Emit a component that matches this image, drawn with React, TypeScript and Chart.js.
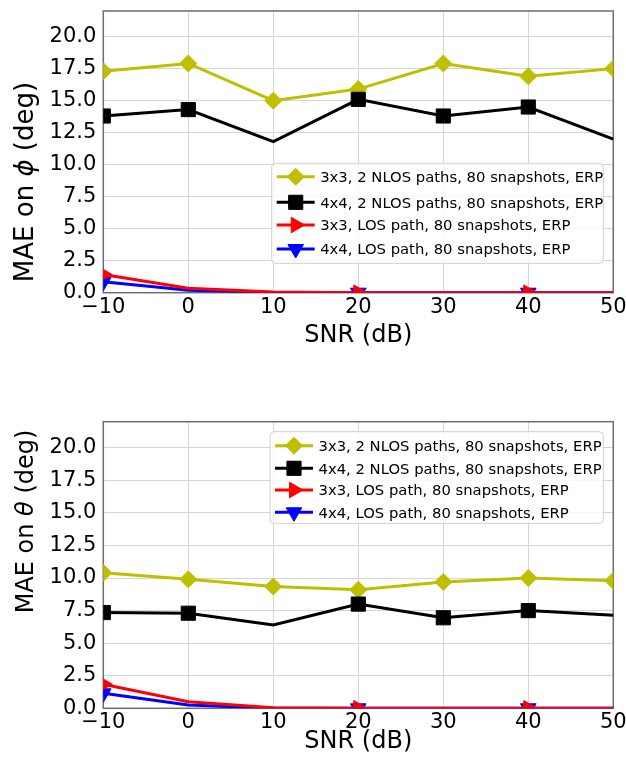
import React, { useEffect, useRef } from 'react';
import { Chart, registerables } from 'chart.js';

Chart.register(...registerables);

const FAMILY = '"DejaVu Sans", sans-serif';

// SNR sweep (dB) and axis ticks
const snr = [-10, 0, 10, 20, 30, 40, 50];
const xTicks = [-10, 0, 10, 20, 30, 40, 50];
const yTicks = [0, 2.5, 5, 7.5, 10, 12.5, 15, 17.5, 20];
const yMax = 22;

const seriesLabels = [
  '3x3, 2 NLOS paths, 80 snapshots, ERP',
  '4x4, 2 NLOS paths, 80 snapshots, ERP',
  '3x3, LOS path, 80 snapshots, ERP',
  '4x4, LOS path, 80 snapshots, ERP',
];

// MAE on azimuth (phi), degrees
const phiNlos3x3 = [17.3, 17.9, 15.0, 15.9, 17.9, 16.9, 17.5];
const phiNlos4x4 = [13.8, 14.3, 11.8, 15.1, 13.8, 14.5, 12.0];
const phiLos3x3 = [1.42, 0.34, 0.05, 0, 0, 0, 0];
const phiLos4x4 = [0.85, 0.2, 0, 0, 0, 0, 0];

// MAE on elevation (theta), degrees
const thetaNlos3x3 = [10.4, 9.9, 9.35, 9.1, 9.7, 10.0, 9.8];
const thetaNlos4x4 = [7.35, 7.3, 6.4, 8.0, 6.95, 7.5, 7.15];
const thetaLos3x3 = [1.85, 0.5, 0.05, 0, 0, 0, 0];
const thetaLos4x4 = [1.15, 0.25, 0, 0, 0, 0, 0];

// samples that carry a marker
const markedAll = [true, true, true, true, true, true, true];
const markedNlos4x4 = [true, true, false, true, true, true, false];
const markedLos = [true, false, false, true, false, true, false];

type Shape = 'diamond' | 'square' | 'right' | 'down';
interface SeriesStyle {
  color: string;
  shape: Shape;
  radius: number;
  order: number;
}

const styles: SeriesStyle[] = [
  { color: '#bfbf00', shape: 'diamond', radius: 8.5, order: 3 },
  { color: '#000000', shape: 'square', radius: 10, order: 2 },
  { color: '#ff0000', shape: 'right', radius: 9, order: 0 },
  { color: '#0000ff', shape: 'down', radius: 9, order: 1 },
];
const markedBySeries = [markedAll, markedNlos4x4, markedLos, markedLos];

function pointStyleOf(shape: Shape): { pointStyle: string; rotation: number } {
  switch (shape) {
    case 'diamond':
      return { pointStyle: 'rectRot', rotation: 0 };
    case 'square':
      return { pointStyle: 'rect', rotation: 0 };
    case 'right':
      return { pointStyle: 'triangle', rotation: 90 };
    default:
      return { pointStyle: 'triangle', rotation: 180 };
  }
}

function drawMarker(ctx: CanvasRenderingContext2D, shape: Shape, x: number, y: number, r: number) {
  ctx.beginPath();
  const h = (Math.sqrt(3) / 2) * r;
  if (shape === 'diamond') {
    ctx.moveTo(x, y - r);
    ctx.lineTo(x + r, y);
    ctx.lineTo(x, y + r);
    ctx.lineTo(x - r, y);
  } else if (shape === 'square') {
    const s = r * Math.SQRT1_2;
    ctx.rect(x - s, y - s, 2 * s, 2 * s);
  } else if (shape === 'right') {
    ctx.moveTo(x + r, y);
    ctx.lineTo(x - r / 2, y - h);
    ctx.lineTo(x - r / 2, y + h);
  } else {
    ctx.moveTo(x, y + r);
    ctx.lineTo(x + h, y - r / 2);
    ctx.lineTo(x - h, y - r / 2);
  }
  ctx.closePath();
  ctx.fill();
  ctx.stroke();
}

interface PanelProps {
  height: number;
  plotTop: number;
  plotBottom: number;
  plotLeft: number;
  plotRight: number;
  values: number[][];
  symbol: string;
  yLabelCenter: number;
  yLabelFont: number;
  xLabelBaseline: number;
  legendBox: [number, number, number, number];
  legendRows: number[];
}

function Panel(props: PanelProps) {
  const ref = useRef<HTMLCanvasElement | null>(null);

  useEffect(() => {
    const canvas = ref.current;
    if (!canvas) return;
    const width = 626;
    const {
      height, plotTop, plotBottom, plotLeft, plotRight, values, symbol,
      yLabelCenter, yLabelFont, xLabelBaseline, legendBox, legendRows,
    } = props;

    const frame = {
      id: 'frame',
      beforeDatasetsDraw(chart: any) {
        const { ctx, chartArea: a } = chart;
        ctx.save();
        ctx.strokeStyle = '#6e6e6e';
        ctx.lineWidth = 1.5;
        ctx.strokeRect(a.left, a.top, a.right - a.left, a.bottom - a.top);
        ctx.restore();
      },
      afterDraw(chart: any) {
        const { ctx, chartArea: a } = chart;
        ctx.save();
        ctx.fillStyle = '#000';
        // x-axis title
        ctx.font = `24px ${FAMILY}`;
        ctx.textAlign = 'center';
        ctx.textBaseline = 'alphabetic';
        ctx.fillText('SNR (dB)', (a.left + a.right) / 2, xLabelBaseline);

        // y-axis title, with the angle symbol in italics
        const upright = `${yLabelFont}px ${FAMILY}`;
        const italic = `italic ${yLabelFont}px ${FAMILY}`;
        const parts: [string, string][] = [
          ['MAE on ', upright],
          [symbol, italic],
          [' (deg)', upright],
        ];
        let total = 0;
        for (const [t, f] of parts) {
          ctx.font = f;
          total += ctx.measureText(t).width;
        }
        ctx.translate(33, yLabelCenter);
        ctx.rotate(-Math.PI / 2);
        ctx.textAlign = 'left';
        let cx = -total / 2;
        for (const [t, f] of parts) {
          ctx.font = f;
          ctx.fillText(t, cx, 0);
          cx += ctx.measureText(t).width;
        }
        ctx.restore();

        // legend
        const [bl, bt, br, bb] = legendBox;
        ctx.save();
        ctx.beginPath();
        const rad = 4;
        ctx.moveTo(bl + rad, bt);
        ctx.lineTo(br - rad, bt);
        ctx.arcTo(br, bt, br, bt + rad, rad);
        ctx.lineTo(br, bb - rad);
        ctx.arcTo(br, bb, br - rad, bb, rad);
        ctx.lineTo(bl + rad, bb);
        ctx.arcTo(bl, bb, bl, bb - rad, rad);
        ctx.lineTo(bl, bt + rad);
        ctx.arcTo(bl, bt, bl + rad, bt, rad);
        ctx.closePath();
        ctx.fillStyle = 'rgba(255,255,255,0.8)';
        ctx.fill();
        ctx.strokeStyle = '#d0d0d0';
        ctx.lineWidth = 1;
        ctx.stroke();

        ctx.font = `14.8px ${FAMILY}`;
        ctx.textAlign = 'left';
        ctx.textBaseline = 'alphabetic';
        seriesLabels.forEach((label, i) => {
          const st = styles[i];
          const y = legendRows[i];
          ctx.strokeStyle = st.color;
          ctx.lineWidth = 3;
          ctx.beginPath();
          ctx.moveTo(bl + 5, y);
          ctx.lineTo(bl + 43, y);
          ctx.stroke();
          ctx.fillStyle = st.color;
          ctx.lineWidth = 1;
          drawMarker(ctx, st.shape, bl + 24, y, st.radius);
          ctx.fillStyle = '#000';
          ctx.fillText(label, bl + 48.5, y + 5.4);
        });
        ctx.restore();
      },
    };

    const chart = new Chart(canvas, {
      type: 'line',
      data: {
        datasets: values.map((vals, i) => {
          const st = styles[i];
          const ps = pointStyleOf(st.shape);
          return {
            label: seriesLabels[i],
            data: snr.map((x, j) => ({ x, y: vals[j] })),
            borderColor: st.color,
            backgroundColor: st.color,
            borderWidth: 3,
            tension: 0,
            order: st.order,
            pointStyle: ps.pointStyle as any,
            rotation: ps.rotation,
            pointRadius: markedBySeries[i].map((m) => (m ? st.radius : 0)),
            pointHoverRadius: 0,
            pointBorderWidth: 1,
            pointBorderColor: st.color,
            pointBackgroundColor: st.color,
          };
        }),
      },
      options: {
        responsive: false,
        animation: false,
        events: [],
        layout: {
          padding: { top: plotTop, right: width - plotRight, left: 0, bottom: 0 },
        },
        plugins: { legend: { display: false }, tooltip: { enabled: false } },
        scales: {
          x: {
            type: 'linear',
            min: snr[0],
            max: snr[snr.length - 1],
            afterBuildTicks: (s: any) => {
              s.ticks = xTicks.map((v) => ({ value: v }));
            },
            afterFit: (s: any) => {
              s.height = height - plotBottom;
              s.paddingLeft = 0;
              s.paddingRight = 0;
            },
            grid: { color: '#d6d6d6', lineWidth: 1, drawTicks: false },
            border: { display: false },
            ticks: {
              padding: 2,
              color: '#000',
              maxRotation: 0,
              autoSkip: false,
              font: { family: FAMILY, size: 21 },
              callback: (v: any) => (v < 0 ? '\u2212' + Math.abs(v) : String(v)),
            },
          },
          y: {
            type: 'linear',
            min: 0,
            max: yMax,
            afterBuildTicks: (s: any) => {
              s.ticks = yTicks.map((v) => ({ value: v }));
            },
            afterFit: (s: any) => {
              s.width = plotLeft;
              s.paddingTop = 0;
              s.paddingBottom = 0;
            },
            grid: { color: '#d6d6d6', lineWidth: 1, drawTicks: false },
            border: { display: false },
            ticks: {
              padding: 7,
              color: '#000',
              autoSkip: false,
              font: { family: FAMILY, size: 21 },
              callback: (v: any) => Number(v).toFixed(1),
            },
          },
        },
      },
      plugins: [frame],
    } as any);

    return () => chart.destroy();
  }, []);

  return (
    <canvas
      ref={ref}
      width={626}
      height={props.height}
      style={{ display: 'block', width: 626, height: props.height }}
    />
  );
}

export default function App() {
  return (
    <div style={{ position: 'absolute', left: 0, top: 0, width: 626, height: 766, background: '#fff' }}>
      <Panel
        height={383}
        plotTop={7}
        plotBottom={292.7}
        plotLeft={103.3}
        plotRight={613.3}
        values={[phiNlos3x3, phiNlos4x4, phiLos3x3, phiLos4x4]}
        symbol={'\u03d5'}
        yLabelCenter={182}
        yLabelFont={26}
        xLabelBaseline={342}
        legendBox={[271.7, 163.3, 603.3, 263.3]}
        legendRows={[176.7, 202.3, 225, 249]}
      />
      <Panel
        height={383}
        plotTop={38.7}
        plotBottom={325.3}
        plotLeft={103.3}
        plotRight={613.3}
        values={[thetaNlos3x3, thetaNlos4x4, thetaLos3x3, thetaLos4x4]}
        symbol={'\u03b8'}
        yLabelCenter={138.5}
        yLabelFont={24}
        xLabelBaseline={364.5}
        legendBox={[270, 48.7, 603.3, 140.3]}
        legendRows={[62.7, 85.3, 107, 129.3]}
      />
    </div>
  );
}
